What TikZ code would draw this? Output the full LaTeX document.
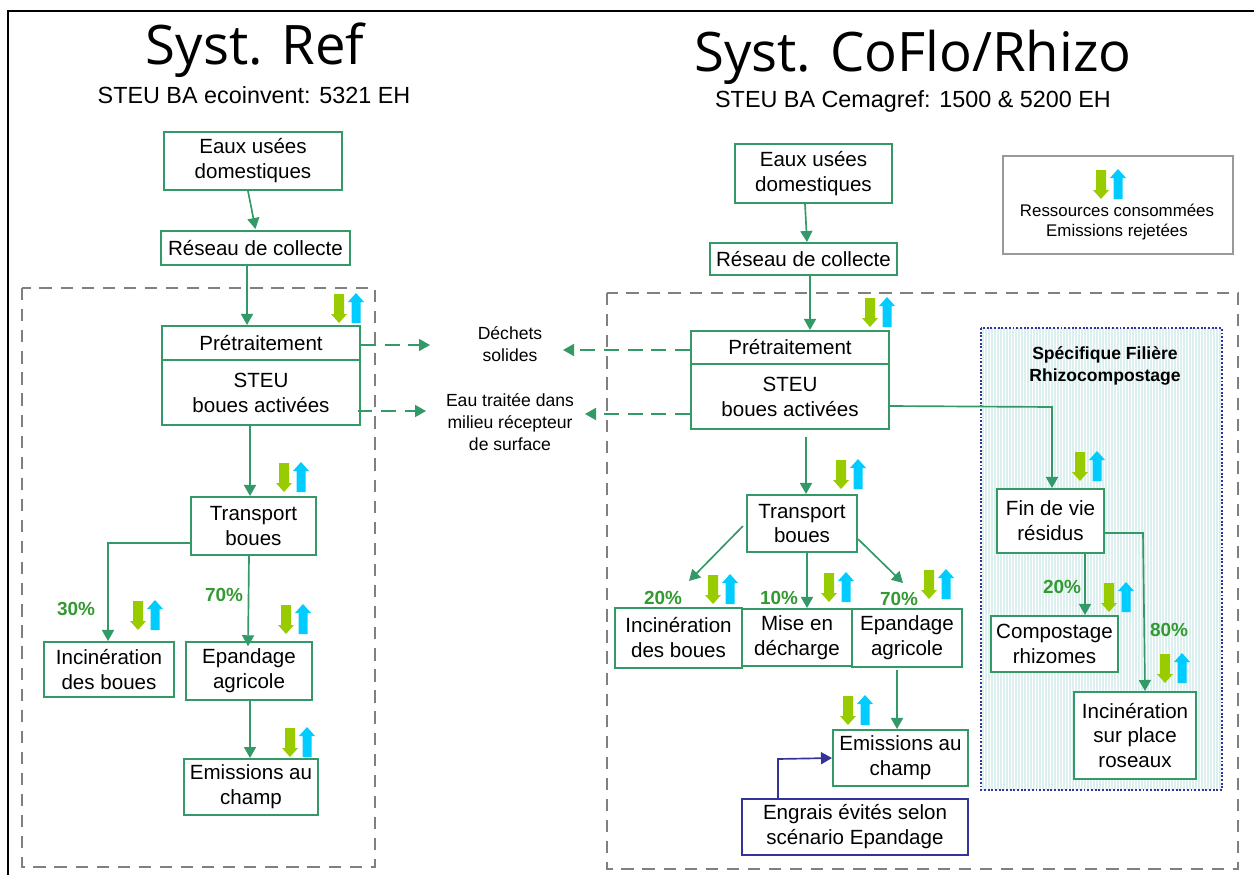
\documentclass[tikz,border=0pt]{standalone}
\usepackage{fontspec}
\setmainfont{Liberation Sans}
\newfontfamily\titlefont{Open Sans}
\usetikzlibrary{arrows.meta,positioning}
\definecolor{boxgreen}{HTML}{339966}
\definecolor{pctgreen}{HTML}{339933}
\definecolor{navyblue}{HTML}{333399}
\definecolor{resgreen}{HTML}{99CC00}
\definecolor{emiblue}{HTML}{00CCFF}
\definecolor{panelfill}{HTML}{DDF0F0}

\begin{document}
\begin{tikzpicture}[
    x=0.02cm, y=-0.02cm,
    box/.style 2 args={rectangle, draw=boxgreen, fill=white, line width=1.15pt, minimum width=#1*0.02cm, minimum height=#2*0.02cm, align=center, inner sep=0pt, font=\fontsize{11.7}{14.2}\selectfont},
    engbox/.style 2 args={box={#1}{#2}, draw=navyblue},
    arrow/.style={-{Triangle[length=0.22cm,width=0.24cm]}, draw=boxgreen, line width=0.95pt},
    rejet/.style={arrow, dashed, dash pattern=on 8.5pt off 5pt},
    scope box/.style={draw=gray, dashed, dash pattern=on 7pt off 5pt, line width=1.3pt},
    pct/.style={text=pctgreen, font=\fontsize{10.8}{13}\selectfont\bfseries, inner sep=0pt},
    label/.style={align=center, inner sep=0pt, font=\fontsize{10}{12.5}\selectfont},
    flux/.pic={
        \fill[resgreen] (-5,-29) -- (5,-29) -- (5,-9) -- (8,-9) -- (0,0) -- (-8,-9) -- (-5,-9) -- cycle;
        \fill[emiblue] (17,-30) -- (25,-21) -- (21.5,-21) -- (21.5,0) -- (12.5,0) -- (12.5,-21) -- (9,-21) -- cycle;
    }
]
    \useasboundingbox (0,0) rectangle (1254,875);
    \draw[line width=1.4pt] (8,875) -- (8,11) -- (1254,11);

    % titles
    \node[font=\titlefont\fontsize{31}{36}\selectfont, inner sep=0pt] (titleref) at (255,50) {Syst. Ref};
    \node[font=\fontsize{13.3}{16}\selectfont, inner sep=0pt] (subref) at (254,95) {STEU BA ecoinvent: 5321 EH};
    \node[font=\titlefont\fontsize{31}{36}\selectfont, inner sep=0pt] (titleco) at (913,57) {Syst. CoFlo/Rhizo};
    \node[font=\fontsize{13.3}{16}\selectfont, inner sep=0pt] (subco) at (913,101) {STEU BA Cemagref: 1500 \& 5200 EH};

    % system borders
    \draw[scope box] (22,288) rectangle (375,867);
    \draw[scope box] (607,293) rectangle (1238,869);

    % rhizo panel
    \fill[panelfill] (981,328) rectangle (1222,790);
    \draw[white, line width=0.25pt, step=3] (981,328) grid (1222,790);
    \draw[navyblue, densely dotted, line width=1.1pt] (981,328) rectangle (1222,790);
    \node[label, font=\fontsize{10}{12.5}\selectfont\bfseries] (rhizo) at (1105,366) {Spécifique Filière\\Rhizocompostage};

    % legend
    \draw[draw=gray!80, line width=1.1pt] (1003,156) rectangle (1233,254);
    \pic at (1101,199) {flux};
    \node[label, font=\fontsize{9.6}{11.4}\selectfont] (legend) at (1117,222) {Ressources consommées\\Emissions rejetées};

    % reference system
    \node[box={178}{58}] (eauxL) at (253,161) {Eaux usées\\domestiques};
    \node[box={189}{34}] (reseauL) at (255.5,248) {Réseau de collecte};
    \node[box={198}{34}] (pretL) at (261,343) {Prétraitement};
    \node[box={198}{65}] (steuL) at (261,392.5) {STEU\\boues activées};
    \node[box={125}{58}] (transpL) at (253.5,526) {Transport\\boues};
    \node[box={130}{55}] (incinL) at (109,669.5) {Incinération\\des boues};
    \node[box={126}{58}] (epandL) at (249,671) {Epandage\\agricole};
    \node[box={134}{56}] (emisL) at (251,787) {Emissions au\\champ};

    % system under study
    \node[box={157}{59}] (eauxR) at (813.5,173.5) {Eaux usées\\domestiques};
    \node[box={187}{32}] (reseauR) at (803.5,259) {Réseau de collecte};
    \node[box={198}{33}] (pretR) at (790,347.5) {Prétraitement};
    \node[box={198}{65}] (steuR) at (790,396.5) {STEU\\boues activées};
    \node[box={110}{57}] (transpR) at (802,523.5) {Transport\\boues};
    \node[box={127}{60}] (incinR) at (678.5,638) {Incinération\\des boues};
    \node[box={110}{57}] (miseR) at (797,637.5) {Mise en\\décharge};
    \node[box={110}{58}] (epandR) at (907,638) {Epandage\\agricole};
    \node[box={135}{56}] (emisR) at (900.5,758) {Emissions au\\champ};
    \node[engbox={226}{56}] (engrais) at (855,827) {Engrais évités selon\\scénario Epandage};
    \node[box={107}{64}] (finvie) at (1050.5,521) {Fin de vie\\résidus};
    \node[box={127}{56}] (compost) at (1054.5,644) {Compostage\\rhizomes};
    \node[box={122}{87}] (inplace) at (1135,735.5) {Incinération\\sur place\\roseaux};

    % outputs in the middle
    \node[label] (dechets) at (510,344) {Déchets\\solides};
    \node[label] (eau) at (510,422) {Eau traitée dans\\milieu récepteur\\de surface};
    \coordinate (dechetsL) at (430,345);
    \coordinate (dechetsR) at (563,350);
    \coordinate (eauL) at (426,411);
    \coordinate (eauR) at (585,414);

    % percentages
    \node[pct] (p30) at (76,609) {30\%};
    \node[pct] (p70L) at (224,595) {70\%};
    \node[pct] (p20) at (663,598) {20\%};
    \node[pct] (p10) at (779,598) {10\%};
    \node[pct] (p70R) at (899,599) {70\%};
    \node[pct] (p20b) at (1062,587) {20\%};
    \node[pct] (p80) at (1169,630) {80\%};

    % resources and emissions
    \foreach \fx/\fy in {339/323, 284/492, 138/630, 286/634, 290/757, 870/327, 841/489, 713/604, 829/602, 929/599, 848/725, 1080/481, 1109/612, 1165/683}
        \pic at (\fx,\fy) {flux};

    % connectors, reference system
    \draw[arrow] (eauxL.south -| 248,0) -- (250,229 -| reseauL.north);
    \draw[arrow] (reseauL.south -| 247,0) -- (pretL.north -| 247,0);
    \draw[arrow] (steuL.south -| 250,0) -- (transpL.north -| 250,0);
    \draw[arrow] (transpL.west |- 0,543) -| (incinL.north -| 108,0);
    \draw[arrow] (transpL.south -| 249,0) -- ([yshift=-3pt]epandL.north -| 248,0);
    \draw[arrow] (epandL.south -| 250,0) -- (emisL.north -| 250,0);
    \draw[rejet] (pretL.east |- dechetsL) -- (dechetsL);
    \draw[rejet] ([xshift=-2pt]steuL.east |- eauL) -- (eauL);

    % connectors, system under study
    \draw[arrow] (eauxR.south -| 805,0) -- (reseauR.north -| 807,0);
    \draw[arrow] (reseauR.south -| 810,0) -- (pretR.north -| 810,0);
    \draw[arrow] ([yshift=-4pt]steuR.south -| 806,0) -- (transpR.north -| 806,0);
    \draw[arrow] (transpR.west |- 0,526) ++(-3,0) -- (689,581);
    \draw[arrow] (transpR.south -| 807,0) -- (miseR.north -| 807,0);
    \draw[arrow] (transpR.east |- 0,539) -- (903,583);
    \draw[arrow] ([yshift=-1pt]epandR.south -| 897,0) -- (emisR.north -| 897,0);
    \draw[arrow, draw=navyblue] (engrais.north -| 778,0) -- (778,759) -- (emisR.west |- 0,758);
    \draw[rejet] (pretR.west |- dechetsR) -- (dechetsR);
    \draw[rejet] (steuR.west |- eauR) -- (eauR);
    \draw[arrow] (steuR.east |- 0,406) -- (1052,407) -- (finvie.north -| 1052,0);
    \draw[arrow] (finvie.south -| 1085,0) -- (compost.north -| 1085,0);
    \draw[arrow] (finvie.east |- 0,533) -- (1143,533) -- (inplace.north -| 1145,0);
\end{tikzpicture}
\end{document}
